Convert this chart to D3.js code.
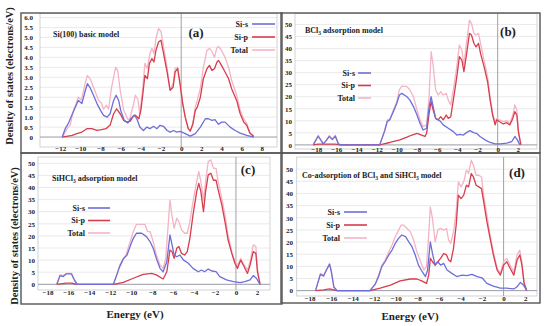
<!DOCTYPE html>
<html>
<head>
<meta charset="utf-8">
<script src="https://cdn.jsdelivr.net/npm/d3@7"></script>
<style>
  body { margin: 0; background: #fff; }
  svg text { font-family: "Liberation Serif", "DejaVu Serif", serif; font-weight: bold; fill: #222; }
</style>
</head>
<body>
<div id="chart"></div>
<script>
// series are [energy (eV), DOS] pairs
const seriesNames = ['Si-s', 'Si-p', 'Total'];
const seriesColors = ['#6e6ed8', '#d63d4e', '#f4b4c4'];

// (a) Si(100) basic model
const aSiS = [[-11.8,0],[-11.5,0.42],[-11.2,0.67],[-10.85,1.09],[-10.5,1.5],[-10.2,1.84],[-9.85,1.68],[-9.5,2.35],[-9.3,2.68],[-9.05,2.5],[-8.7,2.1],[-8.35,1.68],[-8.0,1.34],[-7.7,1.09],[-7.35,1.0],[-7.05,1.17],[-6.7,1.84],[-6.45,2.1],[-6.2,1.84],[-6.0,1.34],[-5.65,0.84],[-5.3,0.7],[-5.0,0.92],[-4.65,1.09],[-4.4,0.92],[-4.1,0.5],[-3.75,0.33],[-3.4,0.5],[-3.1,0.42],[-2.75,0.54],[-2.4,0.42],[-2.1,0.59],[-1.75,0.54],[-1.4,0.33],[-1.1,0.25],[-0.75,0.33],[-0.45,0.25],[-0.1,0.28],[0.4,0.17],[0.9,0.05],[1.4,0.17],[1.9,0.5],[2.4,0.92],[2.7,0.92],[3.05,0.84],[3.35,0.87],[3.7,0.64],[4.0,0.75],[4.35,0.75],[4.85,0.5],[5.35,0.33],[5.85,0.2],[6.5,0.08],[7.2,0]];
const aSiP = [[-11.8,0],[-10.8,0.08],[-10.35,0.17],[-9.85,0.25],[-9.35,0.42],[-8.85,0.42],[-8.35,0.33],[-7.9,0.37],[-7.45,0.42],[-7.05,0.6],[-6.7,1.17],[-6.4,1.42],[-6.05,1.17],[-5.7,0.84],[-5.4,0.75],[-5.05,0.8],[-4.7,1.09],[-4.55,1.1],[-4.2,0.92],[-4.0,1.34],[-3.8,2.18],[-3.6,3.1],[-3.35,2.93],[-3.15,3.7],[-2.9,3.94],[-2.7,3.77],[-2.5,4.36],[-2.25,4.77],[-2.0,4.86],[-1.75,4.2],[-1.4,3.27],[-1.1,2.35],[-0.8,2.5],[-0.6,3.27],[-0.35,3.44],[-0.1,2.6],[0.15,1.68],[0.4,1.0],[0.7,0.42],[0.9,0.3],[1.15,0.64],[1.4,1.34],[1.6,1.5],[1.9,2.0],[2.2,2.93],[2.55,3.43],[2.8,3.6],[3.05,3.35],[3.3,3.43],[3.55,3.77],[3.7,3.85],[4.0,3.6],[4.35,3.27],[4.7,2.93],[5.0,2.43],[5.5,1.84],[5.85,1.17],[6.2,0.75],[6.5,0.59],[6.8,0.2],[7.2,0.03]];
const aTotal = [[-11.8,0],[-11.3,0.42],[-11.0,0.6],[-10.7,1.3],[-10.2,2.0],[-9.9,1.85],[-9.5,2.75],[-9.3,3.1],[-9.0,2.9],[-8.7,2.5],[-8.2,1.85],[-7.9,1.7],[-7.7,1.4],[-7.4,1.6],[-7.2,1.4],[-6.9,2.5],[-6.5,3.5],[-6.3,3.35],[-6.05,2.35],[-5.7,1.35],[-5.3,0.9],[-5.1,0.9],[-4.7,1.7],[-4.55,2.1],[-4.3,1.9],[-4.1,1.15],[-3.8,2.5],[-3.6,3.7],[-3.35,3.45],[-3.1,4.2],[-2.9,4.45],[-2.7,4.2],[-2.5,4.95],[-2.25,5.45],[-2.0,5.3],[-1.75,4.55],[-1.4,3.5],[-1.1,2.35],[-0.8,2.7],[-0.6,3.45],[-0.35,3.5],[-0.1,2.7],[0.15,1.7],[0.4,1.0],[0.7,0.42],[0.9,0.3],[1.15,0.67],[1.4,1.5],[1.6,1.85],[1.9,2.45],[2.2,3.5],[2.55,4.35],[2.8,4.45],[3.05,4.3],[3.3,4.0],[3.55,4.5],[3.7,4.55],[4.0,4.35],[4.35,4.0],[4.7,3.5],[5.0,2.85],[5.5,2.1],[5.85,1.35],[6.2,0.92],[6.5,0.67],[6.8,0.25],[7.2,0.03]];

// (b) BCl3 adsorption model
const bSiS = [[-18.3,0],[-17.8,3.6],[-17.3,0.4],[-17.0,1.8],[-16.7,3.5],[-16.4,2.2],[-16.1,3.6],[-15.8,0.4],[-15.6,0],[-11.7,0],[-11.2,5.9],[-10.95,9.7],[-10.7,10.4],[-10.35,13.8],[-10.0,17.3],[-9.75,20.7],[-9.5,21.4],[-9.0,20],[-8.7,18.6],[-8.35,15.9],[-8.0,12.4],[-7.7,9],[-7.4,6.2],[-7.05,6.9],[-6.8,15.9],[-6.6,20],[-6.4,15.9],[-6.15,11],[-5.9,10.4],[-5.65,9.7],[-5.4,8.3],[-4.9,6.9],[-4.4,5.5],[-4.05,4.1],[-3.75,4.4],[-3.4,4.1],[-3.1,5.1],[-2.75,5.9],[-2.4,5.1],[-2.1,4.8],[-1.75,3.5],[-1.25,2.1],[-0.75,1.0],[-0.25,0.4],[0.25,0.4],[0.9,0.7],[1.4,1.4],[1.7,3.5],[1.95,2.1],[2.2,0]];
const bSiP = [[-18.3,0],[-17.8,0.3],[-16.7,0.3],[-16.1,0.3],[-15.6,0],[-11.7,0],[-10.7,1.0],[-9.7,2.1],[-9.0,3.2],[-8.5,4.1],[-8.0,4.8],[-7.55,4.1],[-7.2,3.5],[-7.05,4.8],[-6.8,13.1],[-6.6,18],[-6.4,14.5],[-6.15,11],[-5.9,10.4],[-5.65,11.7],[-5.4,10.4],[-5.1,12.4],[-4.9,11],[-4.65,11.7],[-4.4,18.6],[-4.05,28.3],[-3.8,36.6],[-3.55,35.2],[-3.35,30.4],[-3.1,37.3],[-2.8,46.3],[-2.6,45.6],[-2.35,42.1],[-2.15,40.7],[-1.9,42.1],[-1.7,38],[-1.35,32.5],[-1.0,26.2],[-0.75,18.6],[-0.5,12.4],[-0.25,8.3],[-0.1,10.4],[0.15,9.7],[0.55,8.7],[0.9,9.2],[1.2,8.3],[1.5,11],[1.7,13.8],[1.9,12.4],[2.05,5.5],[2.3,0]];
const bTotal = [[-18.3,0],[-17.8,4.0],[-17.3,0.6],[-17.0,2.0],[-16.7,3.9],[-16.4,2.5],[-16.1,4.0],[-15.8,0.6],[-15.6,0],[-11.7,0],[-11.2,6.2],[-10.95,10.4],[-10.7,10.6],[-10.35,14.5],[-10.0,18],[-9.75,22.8],[-9.5,24.4],[-9.0,24.2],[-8.7,22.8],[-8.35,20],[-8.0,14.5],[-7.7,10.4],[-7.4,7.6],[-7.05,8.3],[-6.8,20],[-6.6,38.7],[-6.4,33.1],[-6.15,22.8],[-5.9,20.7],[-5.65,22.1],[-5.4,20.7],[-5.1,21.4],[-4.9,18.6],[-4.65,16.6],[-4.4,22.8],[-4.05,32.5],[-3.8,41.4],[-3.55,39.4],[-3.35,33.1],[-3.1,42.1],[-2.8,51.8],[-2.6,50.4],[-2.35,46.3],[-2.15,45.6],[-1.9,46.3],[-1.7,42.1],[-1.35,35.2],[-1.0,28.3],[-0.75,20],[-0.5,13.1],[-0.25,9],[-0.1,11],[0.15,10.4],[0.55,9.7],[0.9,10.1],[1.2,9],[1.5,12.4],[1.7,16.6],[1.9,14.5],[2.05,6.2],[2.3,0]];

// (c) SiHCl3 adsorption model
const cSiS = [[-17.1,0],[-16.8,3.6],[-16.5,3.2],[-16.2,4.3],[-15.7,4.3],[-15.4,1.5],[-15.15,0],[-11.7,0],[-11.4,3.6],[-11.1,7.3],[-10.75,10.5],[-10.4,12.1],[-10.05,16.3],[-9.8,19],[-9.5,21.1],[-9.0,21.1],[-8.55,19.7],[-8.2,17.6],[-7.9,14.9],[-7.6,10.7],[-7.25,6.6],[-6.95,5.2],[-6.6,9.4],[-6.3,20.4],[-6.1,16.3],[-5.9,12.1],[-5.65,11.4],[-5.35,12.1],[-5.0,10],[-4.55,8.7],[-4.1,6.6],[-3.6,5.2],[-3.3,5.9],[-3.0,5.2],[-2.65,6.3],[-2.3,5.5],[-1.9,5.2],[-1.55,3.2],[-0.9,1.8],[-0.25,1.1],[0.4,0.7],[0.85,1.1],[1.35,1.8],[1.65,3.6],[1.95,2.5],[2.3,0]];
const cSiP = [[-17.1,0],[-16.2,0.5],[-15.7,0.5],[-15.15,0],[-11.7,0],[-10.75,0.8],[-9.8,2.5],[-8.85,4.1],[-8.05,4.5],[-7.6,3.9],[-6.95,2.2],[-6.6,5.2],[-6.3,14.2],[-6.1,13.5],[-5.9,10.7],[-5.65,14.9],[-5.45,15.6],[-5.2,12.8],[-4.9,12.1],[-4.65,13.5],[-4.4,19],[-4.1,28.7],[-3.75,38.3],[-3.55,41.7],[-3.35,38.3],[-3.1,30],[-2.9,38.3],[-2.65,45.2],[-2.4,45.9],[-2.15,43],[-1.9,43],[-1.7,39],[-1.35,32.8],[-1.05,25.9],[-0.75,18.3],[-0.4,12.8],[-0.1,8.7],[0.15,6.6],[0.45,10],[0.7,8],[1.1,4.5],[1.35,8],[1.65,13.5],[1.9,12.8],[2.05,5.2],[2.3,0]];
const cTotal = [[-17.1,0],[-16.8,3.9],[-16.5,3.6],[-16.2,4.5],[-15.7,4.5],[-15.4,1.8],[-15.15,0],[-11.7,0],[-11.4,3.9],[-11.1,8],[-10.75,10.7],[-10.5,12.1],[-10.3,14.9],[-10.05,18.3],[-9.8,21.8],[-9.5,24.8],[-9.2,24.8],[-8.7,24.8],[-8.45,21.8],[-8.2,21.8],[-7.9,17.6],[-7.6,12.1],[-7.25,8],[-6.95,6.6],[-6.7,10.7],[-6.45,25.9],[-6.3,34.8],[-6.1,28],[-5.9,23.1],[-5.65,27.3],[-5.45,25.9],[-5.2,22.5],[-4.9,21.1],[-4.65,21.1],[-4.4,25.9],[-4.1,34.2],[-3.75,42.4],[-3.55,46.6],[-3.35,42.4],[-3.1,34.8],[-2.9,42.4],[-2.65,50.7],[-2.4,51.4],[-2.15,47.9],[-1.9,47.9],[-1.7,42.4],[-1.35,35.5],[-1.05,28.7],[-0.75,20.4],[-0.4,13.5],[-0.1,9.4],[0.15,8],[0.45,10.7],[0.7,8.7],[1.1,5.9],[1.35,9.4],[1.65,16.3],[1.9,15.6],[2.05,6.6],[2.3,0]];

// (d) Co-adsorption of BCl3 and SiHCl3 model
const dSiS = [[-17.45,0],[-17.0,6.7],[-16.7,6],[-16.4,8.8],[-16.15,10.8],[-16.0,8.1],[-15.75,1.4],[-15.45,0],[-12.4,0],[-11.9,2.7],[-11.6,5.8],[-11.3,9.9],[-11.0,11.9],[-10.65,14.7],[-10.35,16.7],[-10.05,19.5],[-9.75,21.5],[-9.45,22.9],[-9.1,22.2],[-8.8,20.1],[-8.5,18.1],[-8.2,14.7],[-7.9,10.5],[-7.55,7.8],[-7.25,5.8],[-7.05,8.5],[-6.8,20.1],[-6.6,15.3],[-6.35,10.5],[-6.1,11.9],[-5.85,10.5],[-5.55,11.2],[-5.25,8.5],[-4.8,7.1],[-4.35,5.8],[-3.85,6.4],[-3.4,6.2],[-2.95,6.7],[-2.45,5.8],[-2.0,5.3],[-1.55,3],[-0.95,1.9],[-0.3,1.0],[0.3,1.0],[0.95,0.7],[1.25,1.6],[1.55,3.4],[1.85,2.3],[2.15,0]];
const dSiP = [[-17.45,0],[-16.7,0.3],[-16.15,0.7],[-15.75,0.3],[-15.45,0],[-12.4,0],[-11.45,1.0],[-10.5,2.3],[-9.6,4],[-8.65,4.8],[-8.05,4.8],[-7.6,4],[-7.15,3],[-6.95,6.4],[-6.8,13.3],[-6.6,11.9],[-6.35,10.5],[-6.1,11.9],[-5.85,13.3],[-5.55,15.3],[-5.3,14.7],[-5.1,12.6],[-4.9,11.9],[-4.65,17.4],[-4.4,27],[-4.2,39.3],[-3.95,37.9],[-3.7,39.3],[-3.45,43.4],[-3.25,42.7],[-3.0,48.2],[-2.8,46.8],[-2.55,43.4],[-2.3,42.7],[-2.05,42],[-1.85,36.6],[-1.55,28.4],[-1.25,21.5],[-0.95,14.7],[-0.6,8.5],[-0.3,6.4],[0,10.5],[0.3,11.9],[0.6,9.2],[0.95,6.4],[1.25,12.6],[1.5,14.7],[1.7,10.5],[1.9,3],[2.15,0]];
const dTotal = [[-17.45,0],[-17.0,7.1],[-16.7,6.4],[-16.4,9.2],[-16.15,11.2],[-16.0,8.5],[-15.75,1.6],[-15.45,0],[-12.4,0],[-11.9,3],[-11.6,6.4],[-11.3,10.5],[-11.0,12.6],[-10.65,16],[-10.35,18.8],[-10.05,22.2],[-9.75,24.9],[-9.5,27],[-9.3,27],[-8.95,25.6],[-8.65,24.2],[-8.35,20.8],[-8.05,16],[-7.7,11.9],[-7.4,8.5],[-7.15,9.9],[-6.95,22.9],[-6.8,34.5],[-6.6,29.7],[-6.35,20.1],[-6.1,25],[-5.85,25.6],[-5.55,24.9],[-5.3,25.6],[-5.1,20.8],[-4.9,19.5],[-4.65,24.2],[-4.4,32.5],[-4.2,44.8],[-3.95,42.7],[-3.7,44.8],[-3.45,49.6],[-3.25,48.2],[-3.0,53.7],[-2.8,51.6],[-2.55,47.5],[-2.3,47.5],[-2.05,46.8],[-1.85,39.3],[-1.55,31.1],[-1.25,22.9],[-0.95,16],[-0.6,9.2],[-0.3,7.1],[0,11.9],[0.3,13.3],[0.6,10.5],[0.95,7.8],[1.25,14.7],[1.5,16.7],[1.7,11.9],[1.9,3.7],[2.15,0]];

// tick values
const aYTicks = [0, 0.5, 1, 1.5, 2, 2.5, 3, 3.5, 4, 4.5, 5, 5.5, 6];
const aXTicks = [-12, -10, -8, -6, -4, -2, 0, 2, 4, 6, 8];
const bigYTicks = [0, 5, 10, 15, 20, 25, 30, 35, 40, 45, 50];
const wideXTicks = [-18, -16, -14, -12, -10, -8, -6, -4, -2, 0, 2];

const width = 550, height = 326;

const svg = d3.select('#chart').append('svg')
    .attr('width', width)
    .attr('height', height)
    .attr('viewBox', [0, 0, width, height]);

const panels = [
    {series: [aSiS, aSiP, aTotal], xDomain: [-14, 9.5], xRange: [40, 277], yDomain: [-0.5, 6.2], yRange: [147, 13.6],
     xTicks: aXTicks, yTicks: aYTicks, yFmt: d => d === 0 ? '0' : d.toFixed(1), yLabelX: 33, xLabelY: 153,
     title: ['Si(100) basic model'], titlePos: [53, 37], tag: '(a)', tagPos: [196, 37],
     legend: {x: 248, y: 24, dy: 13, line: [252, 275]}},
    {series: [bSiS, bSiP, bTotal], xDomain: [-20.1, 3.9], xRange: [295, 537], yDomain: [-1.7, 54.5], yRange: [149, 13.6],
     xTicks: wideXTicks, yTicks: bigYTicks, yFmt: d => d, yLabelX: 292, xLabelY: 154,
     title: ['BCl', '3', ' adsorption model'], titlePos: [305, 33], tag: '(b)', tagPos: [508, 36],
     legend: {x: 355, y: 73, dy: 12.5, line: [358, 371]}},
    {series: [cSiS, cSiP, cTotal], xDomain: [-18.9, 3.25], xRange: [38, 270], yDomain: [-2.35, 52.6], yRange: [290, 157],
     xTicks: wideXTicks, yTicks: bigYTicks, yFmt: d => d, yLabelX: 35, xLabelY: 297,
     title: ['SiHCl', '3', ' adsorption model'], titlePos: [52, 181], tag: '(c)', tagPos: [248, 174],
     legend: {x: 85, y: 208, dy: 12.5, line: [88, 110]}},
    {series: [dSiS, dSiP, dTotal], xDomain: [-19.2, 3.1], xRange: [296.7, 537], yDomain: [-2.2, 55], yRange: [296, 157],
     xTicks: wideXTicks, yTicks: bigYTicks, yFmt: d => d, yLabelX: 293, xLabelY: 303,
     title: ['Co-adsorption of BCl', '3', ' and SiHCl', '3', ' model'], titlePos: [302, 178], tag: '(d)', tagPos: [517, 177],
     legend: {x: 340, y: 212, dy: 13, line: [344, 367]}}
];

panels.forEach(drawPanel);

// panel frames
const frames = [[21, 13, 261, 140], [281, 13, 259, 140], [21, 153, 261, 151], [281, 153, 259, 150]];
svg.append('g').selectAll('rect').data(frames).join('rect')
    .attr('x', d => d[0]).attr('y', d => d[1]).attr('width', d => d[2]).attr('height', d => d[3])
    .attr('fill', 'none').attr('stroke', '#555').attr('stroke-width', 1.4);

// axis titles
[[9, 76], [14, 236]].forEach(p => {
    svg.append('text')
        .attr('transform', `translate(${p[0]},${p[1]}) rotate(-90)`)
        .attr('text-anchor', 'middle').attr('dy', '0.35em')
        .style('font-size', '10.5px')
        .text('Density of states (electrons/eV)');
});
[[135, 318], [410, 320]].forEach(p => {
    svg.append('text')
        .attr('x', p[0]).attr('y', p[1])
        .attr('text-anchor', 'middle')
        .style('font-size', '11px')
        .text('Energy (eV)');
});

function drawPanel(p) {
    const x = d3.scaleLinear().domain(p.xDomain).range(p.xRange);
    const y = d3.scaleLinear().domain(p.yDomain).range(p.yRange);
    const g = svg.append('g');

    // grid
    g.append('g').selectAll('line').data(p.yTicks.slice(1)).join('line')
        .attr('x1', p.xRange[0]).attr('x2', p.xRange[1])
        .attr('y1', d => y(d)).attr('y2', d => y(d))
        .attr('stroke', '#e4e4e4').attr('stroke-width', 0.8);

    g.append('rect')
        .attr('x', p.xRange[0]).attr('y', p.yRange[1])
        .attr('width', p.xRange[1] - p.xRange[0]).attr('height', p.yRange[0] - p.yRange[1])
        .attr('fill', 'none').attr('stroke', '#c8c8c8').attr('stroke-width', 0.8);

    // zero lines
    g.append('line')
        .attr('x1', p.xRange[0]).attr('x2', p.xRange[1])
        .attr('y1', y(0)).attr('y2', y(0))
        .attr('stroke', '#9a9aa8').attr('stroke-width', 1);
    g.append('line')
        .attr('x1', x(0)).attr('x2', x(0))
        .attr('y1', p.yRange[1]).attr('y2', p.yRange[0])
        .attr('stroke', '#a0a0a0').attr('stroke-width', 1);

    // axes, text only
    g.append('g')
        .attr('transform', `translate(${p.yLabelX + 3},0)`)
        .call(d3.axisLeft(y).tickValues(p.yTicks).tickSize(0).tickPadding(3).tickFormat(p.yFmt))
        .call(a => a.select('.domain').remove())
        .call(a => a.selectAll('text').style('font-size', '7px').style('font-family', null));
    g.append('g')
        .attr('transform', `translate(0,${p.xLabelY - 7})`)
        .call(d3.axisBottom(x).tickValues(p.xTicks).tickSize(0).tickPadding(0)
            .tickFormat(d => d < 0 ? '\u2212' + Math.abs(d) : d))
        .call(a => a.select('.domain').remove())
        .call(a => a.selectAll('text').style('font-size', '7px').style('font-family', null));

    // curves: total below, then Si-p, then Si-s
    const line = d3.line().x(d => x(d[0])).y(d => y(d[1]));
    [2, 1, 0].forEach(i => {
        g.append('path')
            .datum(p.series[i])
            .attr('fill', 'none')
            .attr('stroke', seriesColors[i])
            .attr('stroke-width', 1.3)
            .attr('stroke-linejoin', 'round')
            .attr('d', line);
    });

    // title with subscripts
    const t = g.append('text')
        .attr('x', p.titlePos[0]).attr('y', p.titlePos[1])
        .style('font-size', '8px');
    p.title.forEach((s, i) => {
        const sub = s === '3';
        t.append('tspan')
            .attr('dy', sub ? 1.5 : (i > 0 && p.title[i - 1] === '3' ? -1.5 : 0))
            .style('font-size', sub ? '5.5px' : null)
            .text(s);
    });

    g.append('text')
        .attr('x', p.tagPos[0]).attr('y', p.tagPos[1])
        .attr('text-anchor', 'middle')
        .style('font-size', '13px')
        .text(p.tag);

    // legend
    const lg = g.append('g').selectAll('g').data(seriesNames).join('g')
        .attr('transform', (d, i) => `translate(0,${p.legend.y + i * p.legend.dy})`);
    lg.append('text')
        .attr('x', p.legend.x).attr('dy', '0.35em')
        .attr('text-anchor', 'end')
        .style('font-size', '8px')
        .text(d => d);
    lg.append('line')
        .attr('x1', p.legend.line[0]).attr('x2', p.legend.line[1])
        .attr('stroke', (d, i) => seriesColors[i])
        .attr('stroke-width', 1.6);
}
</script>
</body>
</html>
